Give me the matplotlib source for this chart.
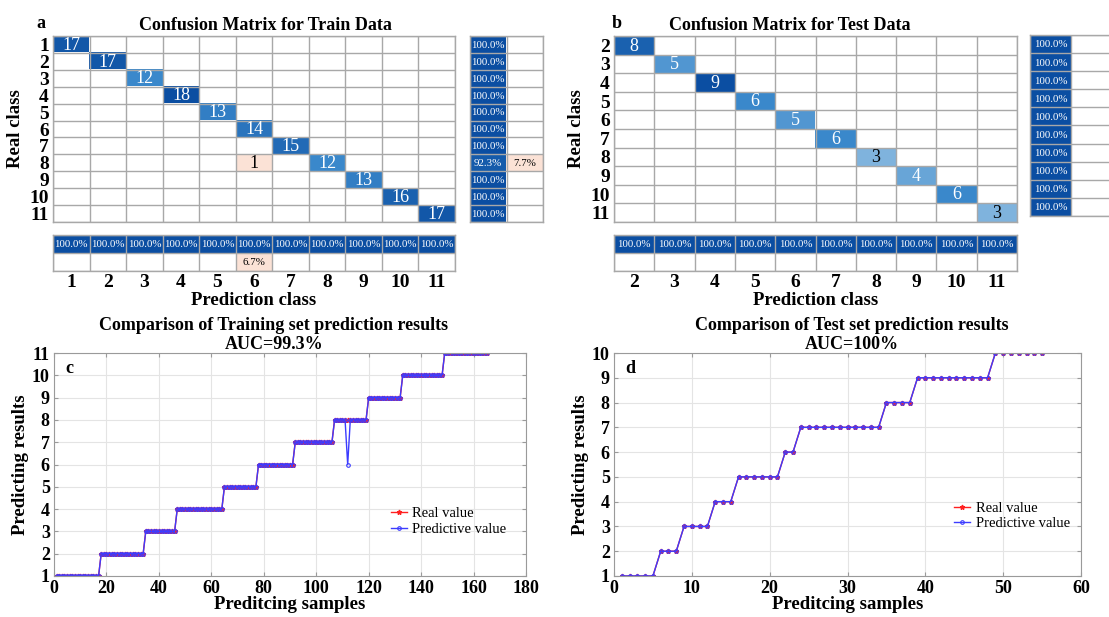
import numpy as np
import matplotlib
matplotlib.use('Agg')
import matplotlib.pyplot as plt
from matplotlib.colors import LinearSegmentedColormap, to_rgb

W, H = 1109, 617
plt.rcParams['font.family'] = ['Liberation Serif', 'DejaVu Serif']

# ---------------- data ----------------
train_classes = [1, 2, 3, 4, 5, 6, 7, 8, 9, 10, 11]
train_diag = [17, 17, 12, 18, 13, 14, 15, 12, 13, 16, 17]
train_offdiag = [(8, 6, 1)]          # (real class, predicted class, count)
train_row_pct = [100.0, 100.0, 100.0, 100.0, 100.0, 100.0, 100.0, 92.3, 100.0, 100.0, 100.0]
train_row_err = [0, 0, 0, 0, 0, 0, 0, 7.7, 0, 0, 0]
train_col_pct = [100.0, 100.0, 100.0, 100.0, 100.0, 100.0, 100.0, 100.0, 100.0, 100.0, 100.0]
train_col_err = [0, 0, 0, 0, 0, 6.7, 0, 0, 0, 0, 0]

test_classes = [2, 3, 4, 5, 6, 7, 8, 9, 10, 11]
test_diag = [8, 5, 9, 6, 5, 6, 3, 4, 6, 3]
test_offdiag = []
test_row_pct = [100.0, 100.0, 100.0, 100.0, 100.0, 100.0, 100.0, 100.0, 100.0, 100.0]
test_row_err = [0, 0, 0, 0, 0, 0, 0, 0, 0, 0]
test_col_pct = [100.0, 100.0, 100.0, 100.0, 100.0, 100.0, 100.0, 100.0, 100.0, 100.0]
test_col_err = [0, 0, 0, 0, 0, 0, 0, 0, 0, 0]

# prediction comparison series, stored as runs (class value, number of samples)
train_run_values = [1, 2, 3, 4, 5, 6, 7, 8, 9, 10, 11]
train_run_lengths = [17, 17, 12, 18, 13, 14, 15, 13, 13, 16, 17]
train_wrong_sample = 112
train_wrong_value = 6
test_run_values = [1, 2, 3, 4, 5, 6, 7, 8, 9, 10]
test_run_lengths = [5, 3, 4, 3, 6, 2, 11, 4, 10, 7]
train_auc = 'AUC=99.3%'
test_auc = 'AUC=100%'

# ---------------- style ----------------
diag_cmap = LinearSegmentedColormap.from_list(
    'diag', [(0, '#ffffff'), (0.33, '#80b4de'), (0.67, '#3a88cb'), (1.0, '#0b4ea2')])
OFF = '#fbe2d6'
GRID = '#a8a8a8'
BOLD = 'bold'
SUMFS = 7.8

fig = plt.figure(figsize=(W / 100, H / 100), dpi=100)


def fax(l, t, r, b):
    return fig.add_axes([l / W, 1 - b / H, (r - l) / W, (b - t) / H])


def text_color(c):
    r, g, b = c[:3]
    return 'white' if (0.299 * r + 0.587 * g + 0.114 * b) < 0.6 else 'black'


def cell_axes(ax, nx, ny):
    ax.set_xlim(-0.5, nx - 0.5)
    ax.set_ylim(ny - 0.5, -0.5)
    ax.set_xticks(np.arange(nx + 1) - 0.5, minor=True)
    ax.set_yticks(np.arange(ny + 1) - 0.5, minor=True)
    ax.grid(which='minor', color=GRID, lw=1)
    ax.set_axisbelow(False)
    ax.tick_params(which='both', length=0)
    for s in ax.spines.values():
        s.set_color(GRID)
        s.set_linewidth(1)


def confusion(mat_box, row_box, col_box, classes, diag, offdiag,
              row_pct, row_err, col_pct, col_err):
    n = len(classes)
    idx = {c: i for i, c in enumerate(classes)}
    img = np.ones((n, n, 3))
    vmax = max(diag)
    for i, d in enumerate(diag):
        img[i, i] = diag_cmap(d / vmax)[:3]
    for r, p, c in offdiag:
        img[idx[r], idx[p]] = to_rgb(OFF)
    ax = fax(*mat_box)
    ax.imshow(img, aspect='auto', interpolation='nearest')
    cell_axes(ax, n, n)
    for i, d in enumerate(diag):
        ax.text(i, i + 0.04, str(d), ha='center', va='center', fontsize=13,
                color=text_color(img[i, i]))
    for r, p, c in offdiag:
        ax.text(idx[p], idx[r] + 0.04, str(c), ha='center', va='center', fontsize=13,
                color=text_color(img[idx[r], idx[p]]))
    ax.set_yticks(range(n))
    ax.set_yticklabels([str(c) for c in classes], fontsize=14, fontweight=BOLD)
    ax.set_xticks([])
    ax.tick_params(axis='y', pad=3)
    ax.set_ylabel('Real class', fontsize=13.5, fontweight=BOLD, labelpad=4)

    # row summary
    axr = fax(*row_box)
    rimg = np.ones((n, 2, 3))
    for i in range(n):
        rimg[i, 0] = diag_cmap(row_pct[i] / 100)[:3]
        if row_err[i] > 0:
            rimg[i, 1] = to_rgb(OFF)
    axr.imshow(rimg, aspect='auto', interpolation='nearest')
    cell_axes(axr, 2, n)
    axr.set_xticks([]); axr.set_yticks([])
    for i in range(n):
        axr.text(0, i + 0.05, f'{row_pct[i]:.1f}%', ha='center', va='center',
                 fontsize=SUMFS, color=text_color(rimg[i, 0]))
        if row_err[i] > 0:
            axr.text(1, i + 0.05, f'{row_err[i]:.1f}%', ha='center', va='center',
                     fontsize=SUMFS, color=text_color(rimg[i, 1]))

    # column summary
    axc = fax(*col_box)
    cimg = np.ones((2, n, 3))
    for j in range(n):
        cimg[0, j] = diag_cmap(col_pct[j] / 100)[:3]
        if col_err[j] > 0:
            cimg[1, j] = to_rgb(OFF)
    axc.imshow(cimg, aspect='auto', interpolation='nearest')
    cell_axes(axc, n, 2)
    axc.set_yticks([])
    axc.set_xticks(range(n))
    axc.set_xticklabels([str(c) for c in classes], fontsize=14, fontweight=BOLD)
    axc.tick_params(axis='x', pad=2)
    axc.set_xlabel('Prediction class', fontsize=13.5, fontweight=BOLD, labelpad=1)
    for j in range(n):
        axc.text(j, 0.05, f'{col_pct[j]:.1f}%', ha='center', va='center',
                 fontsize=SUMFS, color=text_color(cimg[0, j]))
        if col_err[j] > 0:
            axc.text(j, 1.05, f'{col_err[j]:.1f}%', ha='center', va='center',
                     fontsize=SUMFS, color=text_color(cimg[1, j]))
    return ax


confusion((53, 36, 455, 222), (470, 36, 543, 222), (53, 235, 455, 271),
          train_classes, train_diag, train_offdiag,
          train_row_pct, train_row_err, train_col_pct, train_col_err)
fig.text(265 / W, 1 - 25 / H, 'Confusion Matrix for Train Data', ha='center', va='center',
         fontsize=13, fontweight=BOLD)
fig.text(41 / W, 1 - 23 / H, 'a', ha='center', va='center', fontsize=13, fontweight=BOLD)

confusion((614, 36, 1017, 222), (1030, 35, 1112, 216), (614, 235, 1017, 271),
          test_classes, test_diag, test_offdiag,
          test_row_pct, test_row_err, test_col_pct, test_col_err)
fig.text(790 / W, 1 - 25 / H, 'Confusion Matrix for Test Data', ha='center', va='center',
         fontsize=13, fontweight=BOLD)
fig.text(617 / W, 1 - 23 / H, 'b', ha='center', va='center', fontsize=13, fontweight=BOLD)


def comparison(box, run_values, run_lengths, wrong, title, auc, letter,
               xmax, xstep, legend_xy, title_x):
    real = np.repeat(run_values, run_lengths)
    pred = real.copy()
    if wrong is not None:
        pred[wrong[0] - 1] = wrong[1]
    x = np.arange(1, len(real) + 1)
    ax = fax(*box)
    ax.plot(x, real, '-*', color='#ff2020', ms=3.5, lw=1, label='Real value')
    ax.plot(x, pred, '-o', color='#3c3cff', ms=2.6, lw=1, mfc='none', mew=0.8,
            label='Predictive value')
    ax.set_xlim(0, xmax)
    ax.set_ylim(min(run_values), max(run_values))
    ax.set_xticks(np.arange(0, xmax + 1, xstep))
    ax.set_yticks(run_values)
    ax.grid(True, color='#e4e4e4', lw=0.8)
    ax.set_axisbelow(True)
    ax.tick_params(direction='in', top=True, right=True, length=3, color='#9a9a9a',
                   labelsize=13, pad=3)
    for lbl in ax.get_xticklabels() + ax.get_yticklabels():
        lbl.set_fontweight(BOLD)
    for s in ax.spines.values():
        s.set_color('#9a9a9a')
    ax.set_xlabel('Preditcing samples', fontsize=13.5, fontweight=BOLD, labelpad=-1)
    ax.set_ylabel('Predicting results', fontsize=13.5, fontweight=BOLD, labelpad=2)
    ax.set_title(title + '\n' + auc, fontsize=13, fontweight=BOLD, pad=3,
                 linespacing=1.15, x=title_x)
    ax.text(0.025, 0.91, letter, transform=ax.transAxes, fontsize=13, fontweight=BOLD)
    ax.legend(loc='center left', bbox_to_anchor=legend_xy, frameon=False, fontsize=10.5,
              handlelength=1.1, handletextpad=0.4, labelspacing=0.15, borderpad=0,
              borderaxespad=0)
    return ax


comparison((54, 353, 526, 576), train_run_values, train_run_lengths,
           (train_wrong_sample, train_wrong_value),
           'Comparison of Training set prediction results', train_auc, 'c', 180, 20,
           (0.713, 0.245), 0.466)
comparison((614, 353, 1081, 576), test_run_values, test_run_lengths, None,
           'Comparison of Test set prediction results', test_auc, 'd', 60, 10,
           (0.728, 0.27), 0.51)

fig.savefig('out.png', dpi=100)
